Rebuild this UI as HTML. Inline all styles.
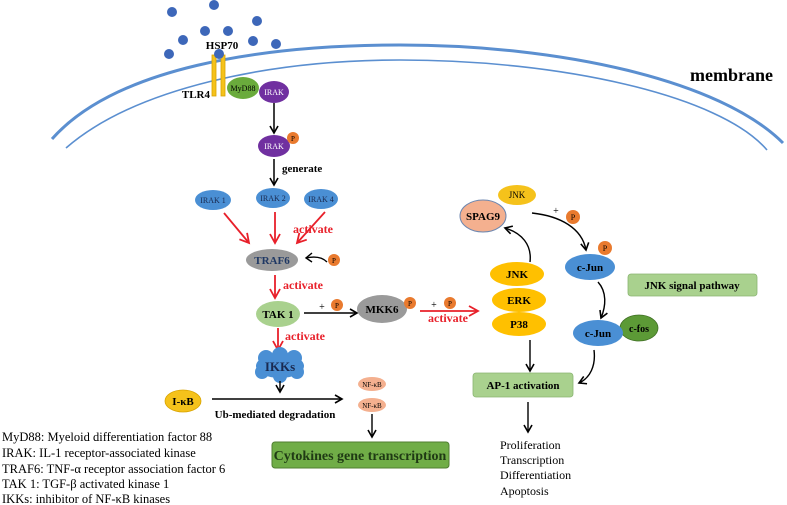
<!DOCTYPE html>
<html><head><meta charset="utf-8"><style>
html,body{margin:0;padding:0;background:#fff;}
svg{display:block;}
text{font-family:"Liberation Serif",serif;}
.b{font-weight:bold;}
</style></head><body>
<svg width="787" height="505" viewBox="0 0 787 505" xmlns="http://www.w3.org/2000/svg">
<defs>
<marker id="ak" markerWidth="10" markerHeight="10" refX="8" refY="5" orient="auto" markerUnits="userSpaceOnUse"><path d="M1,1 L8,5 L1,9" fill="none" stroke="#000" stroke-width="1.6"/></marker>
<marker id="ar" markerWidth="12" markerHeight="12" refX="10" refY="6" orient="auto" markerUnits="userSpaceOnUse"><path d="M1,1 L10,6 L1,11" fill="none" stroke="#e8202a" stroke-width="1.8"/></marker>
</defs>
<!-- membrane -->
<path d="M52,139 C115,68 260,45 400,45 C560,45 720,80 783,143" fill="none" stroke="#5b8fd0" stroke-width="3"/>
<path d="M66,148 C135,88 270,60 400,60 C560,60 720,95 767,150" fill="none" stroke="#5b8fd0" stroke-width="1.6"/>
<text x="690" y="81" class="b" font-size="18">membrane</text>
<!-- dots -->
<g fill="#3d67b9">
<circle cx="172" cy="12" r="5"/><circle cx="214" cy="5" r="5"/><circle cx="257" cy="21" r="5"/>
<circle cx="205" cy="31" r="5"/><circle cx="228" cy="31" r="5"/><circle cx="183" cy="40" r="5"/>
<circle cx="253" cy="41" r="5"/><circle cx="276" cy="44" r="5"/><circle cx="169" cy="54" r="5"/>
</g>
<text x="222" y="49" text-anchor="middle" class="b" font-size="11">HSP70</text>
<rect x="212" y="55" width="4" height="41" fill="#f5c21b" stroke="#d9a400" stroke-width="0.8"/>
<rect x="221" y="55" width="4" height="41" fill="#f5c21b" stroke="#d9a400" stroke-width="0.8"/>
<circle cx="219" cy="54" r="5" fill="#3d67b9"/>
<text x="210" y="98" text-anchor="end" class="b" font-size="11">TLR4</text>
<ellipse cx="243" cy="88" rx="16" ry="11" fill="#6aab3c"/>
<text x="243" y="91" text-anchor="middle" font-size="8">MyD88</text>
<ellipse cx="274" cy="92" rx="15" ry="11" fill="#7030a0"/>
<text x="274" y="95" text-anchor="middle" font-size="8" fill="#fff">IRAK</text>
<line x1="274" y1="103" x2="274" y2="133" stroke="#000" stroke-width="1.5" marker-end="url(#ak)"/>
<ellipse cx="274" cy="146" rx="16" ry="11" fill="#7030a0"/>
<text x="274" y="149" text-anchor="middle" font-size="8" fill="#fff">IRAK</text>
<circle cx="293" cy="138" r="6" fill="#e97a2e"/><text x="293" y="141" text-anchor="middle" font-size="7">P</text>
<line x1="274" y1="159" x2="274" y2="185" stroke="#000" stroke-width="1.5" marker-end="url(#ak)"/>
<text x="282" y="172" class="b" font-size="11">generate</text>
<!-- IRAK 1/2/4 -->
<ellipse cx="213" cy="200" rx="18" ry="10" fill="#4a8fd4"/><text x="213" y="203" text-anchor="middle" font-size="8" fill="#1a2a50">IRAK 1</text>
<ellipse cx="273" cy="198" rx="17" ry="10" fill="#4a8fd4"/><text x="273" y="201" text-anchor="middle" font-size="8" fill="#1a2a50">IRAK 2</text>
<ellipse cx="321" cy="199" rx="17" ry="10" fill="#4a8fd4"/><text x="321" y="202" text-anchor="middle" font-size="8" fill="#1a2a50">IRAK 4</text>
<g stroke="#e8202a" stroke-width="1.8" fill="none">
<line x1="224" y1="213" x2="249" y2="243" marker-end="url(#ar)"/>
<line x1="275" y1="212" x2="275" y2="243" marker-end="url(#ar)"/>
<line x1="325" y1="212" x2="297" y2="243" marker-end="url(#ar)"/>
<line x1="275" y1="275" x2="275" y2="298" marker-end="url(#ar)"/>
<line x1="278" y1="328" x2="278" y2="350" marker-end="url(#ar)"/>
<line x1="420" y1="311" x2="478" y2="311" marker-end="url(#ar)"/>
</g>
<text x="313" y="233" text-anchor="middle" class="b" font-size="12" fill="#e8202a">activate</text>
<ellipse cx="272" cy="260" rx="26" ry="11" fill="#9a9a9a"/>
<text x="272" y="264" text-anchor="middle" class="b" font-size="11" fill="#1f3864">TRAF6</text>
<path d="M327,262 Q320,255 306,258" fill="none" stroke="#000" stroke-width="1.4"/>
<path d="M312,253 L306,258 L312,262" fill="none" stroke="#000" stroke-width="1.4"/>
<circle cx="334" cy="260" r="6" fill="#e97a2e"/><text x="334" y="263" text-anchor="middle" font-size="7">P</text>
<text x="283" y="289" class="b" font-size="12" fill="#e8202a">activate</text>
<ellipse cx="278" cy="314" rx="22" ry="13" fill="#a9d18e"/>
<text x="278" y="318" text-anchor="middle" class="b" font-size="11">TAK 1</text>
<text x="322" y="310" text-anchor="middle" font-size="10">+</text>
<circle cx="337" cy="305" r="6" fill="#e97a2e"/><text x="337" y="308" text-anchor="middle" font-size="7">P</text>
<line x1="304" y1="313" x2="357" y2="313" stroke="#000" stroke-width="1.4" marker-end="url(#ak)"/>
<ellipse cx="382" cy="309" rx="25" ry="14" fill="#9a9a9a"/>
<text x="382" y="313" text-anchor="middle" class="b" font-size="11">MKK6</text>
<circle cx="410" cy="303" r="6" fill="#e97a2e"/><text x="410" y="306" text-anchor="middle" font-size="7">P</text>
<text x="434" y="308" text-anchor="middle" font-size="10">+</text>
<circle cx="450" cy="303" r="6" fill="#e97a2e"/><text x="450" y="306" text-anchor="middle" font-size="7">P</text>
<text x="448" y="322" text-anchor="middle" class="b" font-size="12" fill="#e8202a">activate</text>
<text x="285" y="340" class="b" font-size="12" fill="#e8202a">activate</text>
<!-- IKKs cloud -->
<g fill="#4a8fd4">
<ellipse cx="280" cy="366" rx="24" ry="12"/>
<circle cx="266" cy="358" r="8"/><circle cx="280" cy="355" r="8"/><circle cx="294" cy="358" r="8"/>
<circle cx="262" cy="372" r="7"/><circle cx="280" cy="376" r="7"/><circle cx="297" cy="372" r="7"/>
</g>
<text x="280" y="371" text-anchor="middle" class="b" font-size="13" fill="#1a2a50">IKKs</text>
<line x1="280" y1="381" x2="280" y2="392" stroke="#000" stroke-width="1.4" marker-end="url(#ak)"/>
<ellipse cx="183" cy="401" rx="18" ry="11" fill="#f5c21b" stroke="#d9a400" stroke-width="0.8"/>
<text x="183" y="405" text-anchor="middle" class="b" font-size="11">I-κB</text>
<line x1="212" y1="399" x2="342" y2="399" stroke="#000" stroke-width="1.5" marker-end="url(#ak)"/>
<text x="275" y="418" text-anchor="middle" class="b" font-size="11">Ub-mediated degradation</text>
<ellipse cx="372" cy="384" rx="14" ry="7" fill="#f4b08f"/><text x="372" y="387" text-anchor="middle" font-size="7">NF-κB</text>
<ellipse cx="372" cy="405" rx="14" ry="7" fill="#f4b08f"/><text x="372" y="408" text-anchor="middle" font-size="7">NF-κB</text>
<line x1="372" y1="414" x2="372" y2="437" stroke="#000" stroke-width="1.4" marker-end="url(#ak)"/>
<rect x="272" y="442" width="177" height="26" rx="3" fill="#70ad47" stroke="#507e32" stroke-width="1"/>
<text x="360" y="460" text-anchor="middle" class="b" font-size="14" fill="#1f3a14">Cytokines gene transcription</text>
<!-- legend -->
<g font-size="12.5">
<text x="2" y="441">MyD88: Myeloid differentiation factor 88</text>
<text x="2" y="457">IRAK: IL-1 receptor-associated kinase</text>
<text x="2" y="473">TRAF6: TNF-α receptor association factor 6</text>
<text x="2" y="488">TAK 1: TGF-β activated kinase 1</text>
<text x="2" y="503">IKKs: inhibitor of NF-κB kinases</text>
</g>
<!-- right side -->
<ellipse cx="517" cy="195" rx="19" ry="10" fill="#f5c21b"/>
<text x="517" y="198" text-anchor="middle" font-size="9">JNK</text>
<ellipse cx="483" cy="216" rx="23" ry="16" fill="#f4b08f" stroke="#6d87b0" stroke-width="1"/>
<text x="483" y="220" text-anchor="middle" class="b" font-size="11">SPAG9</text>
<text x="556" y="214" text-anchor="middle" font-size="10">+</text>
<circle cx="573" cy="217" r="7" fill="#e97a2e"/><text x="573" y="220" text-anchor="middle" font-size="8">P</text>
<path d="M532,213 C560,216 582,228 586,250" fill="none" stroke="#000" stroke-width="1.4" marker-end="url(#ak)"/>
<circle cx="605" cy="248" r="7" fill="#e97a2e"/><text x="605" y="251" text-anchor="middle" font-size="8">P</text>
<ellipse cx="590" cy="267" rx="25" ry="13" fill="#4a8fd4"/>
<text x="590" y="271" text-anchor="middle" class="b" font-size="11">c-Jun</text>
<path d="M530,262 C532,245 522,233 505,228" fill="none" stroke="#000" stroke-width="1.4" marker-end="url(#ak)"/>
<ellipse cx="517" cy="274" rx="27" ry="12" fill="#ffc000"/>
<text x="517" y="278" text-anchor="middle" class="b" font-size="11">JNK</text>
<ellipse cx="519" cy="300" rx="27" ry="12" fill="#ffc000"/>
<text x="519" y="304" text-anchor="middle" class="b" font-size="11">ERK</text>
<ellipse cx="519" cy="324" rx="27" ry="12" fill="#ffc000"/>
<text x="519" y="328" text-anchor="middle" class="b" font-size="11">P38</text>
<rect x="628" y="274" width="129" height="22" rx="3" fill="#a9d18e" stroke="#8ab572" stroke-width="0.8"/>
<text x="692" y="289" text-anchor="middle" class="b" font-size="11">JNK signal pathway</text>
<path d="M598,282 C607,292 606,306 601,318" fill="none" stroke="#000" stroke-width="1.4" marker-end="url(#ak)"/>
<ellipse cx="639" cy="328" rx="19" ry="13" fill="#5c9a36" stroke="#3f6f24" stroke-width="0.8"/>
<text x="639" y="332" text-anchor="middle" class="b" font-size="10">c-fos</text>
<ellipse cx="598" cy="333" rx="25" ry="13" fill="#4a8fd4"/>
<text x="598" y="337" text-anchor="middle" class="b" font-size="11">c-Jun</text>
<line x1="530" y1="340" x2="530" y2="371" stroke="#000" stroke-width="1.4" marker-end="url(#ak)"/>
<path d="M594,350 C596,366 590,378 579,383" fill="none" stroke="#000" stroke-width="1.4" marker-end="url(#ak)"/>
<rect x="473" y="373" width="100" height="24" rx="3" fill="#a9d18e" stroke="#8ab572" stroke-width="0.8"/>
<text x="523" y="389" text-anchor="middle" class="b" font-size="11">AP-1 activation</text>
<line x1="528" y1="402" x2="528" y2="432" stroke="#000" stroke-width="1.4" marker-end="url(#ak)"/>
<g font-size="12">
<text x="500" y="449">Proliferation</text>
<text x="500" y="464">Transcription</text>
<text x="500" y="479">Differentiation</text>
<text x="500" y="495">Apoptosis</text>
</g>
</svg>
</body></html>
